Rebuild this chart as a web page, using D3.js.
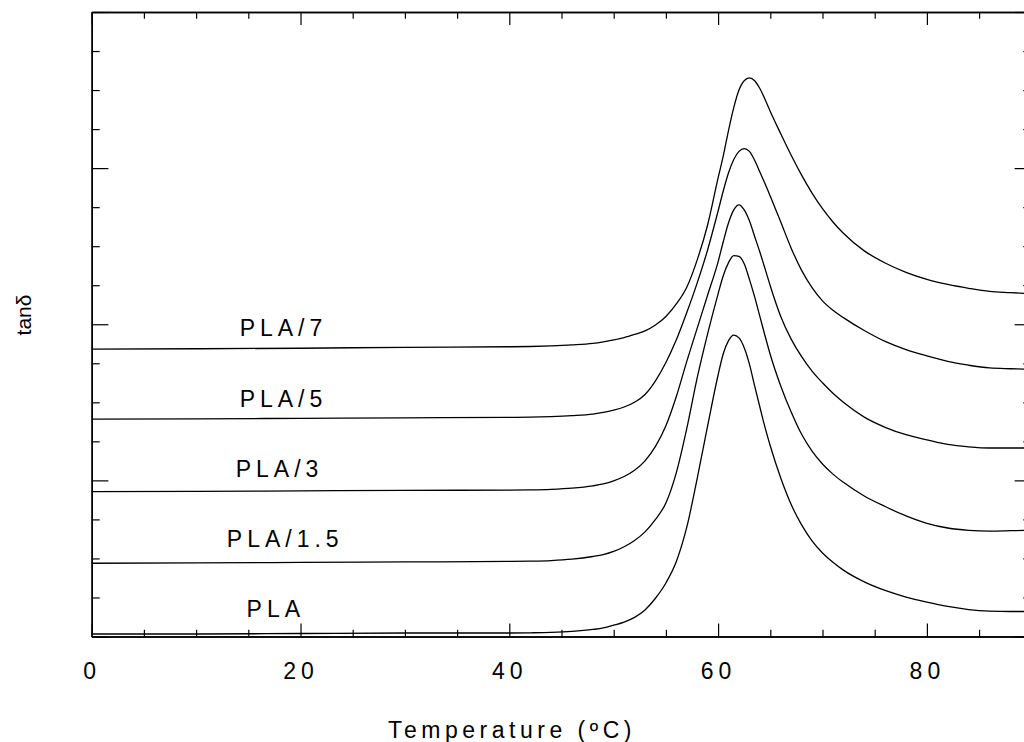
<!DOCTYPE html>
<html>
<head>
<meta charset="utf-8">
<script src="https://cdn.jsdelivr.net/npm/d3@7"></script>
<style>
  html, body { margin: 0; padding: 0; background: #fff; }
  svg { display: block; }
  text { font-family: Arial, "Liberation Sans", Helvetica, sans-serif; fill: #000; }
</style>
</head>
<body>
<svg id="chart" width="1024" height="742"></svg>
<script>
// Temperature grid (°C) shared by all tan δ curves
const temps = [0, 10, 20, 30, 40, 42, 44, 46, 48, 49,
               50, 51, 52, 53, 54, 55, 56, 57, 58, 59,
               60, 60.5, 61, 61.5, 62, 62.5, 63, 63.5, 64, 64.5,
               65, 66, 67, 68, 69, 70, 71, 72, 74, 76,
               78, 80, 82, 84, 86, 88, 89.5];

// tan δ (vertically offset curves, arbitrary units)
const tanPLA   = [0.064, 0.064, 0.077, 0.09, 0.09, 0.095, 0.105, 0.13, 0.18, 0.22,
                  0.29, 0.37, 0.49, 0.68, 0.98, 1.37, 1.92, 2.80, 4.05, 5.40,
                  6.70, 7.25, 7.58, 7.72, 7.65, 7.40, 6.98, 6.42, 5.88, 5.35,
                  4.88, 4.06, 3.38, 2.86, 2.45, 2.14, 1.90, 1.70, 1.40, 1.18,
                  1.01, 0.88, 0.77, 0.69, 0.65, 0.64, 0.64];
const tanPLA15 = [1.877, 1.885, 1.897, 1.91, 1.923, 1.93, 1.945, 1.98, 2.05, 2.10,
                  2.18, 2.30, 2.46, 2.68, 3.00, 3.42, 4.20, 5.33, 6.63, 7.76,
                  8.78, 9.25, 9.58, 9.76, 9.74, 9.55, 9.15, 8.70, 8.20, 7.70,
                  7.22, 6.42, 5.75, 5.18, 4.75, 4.42, 4.16, 3.95, 3.60, 3.33,
                  3.09, 2.90, 2.78, 2.72, 2.70, 2.71, 2.72];
const tanPLA3  = [3.713, 3.718, 3.731, 3.744, 3.749, 3.755, 3.77, 3.80, 3.86, 3.91,
                  3.99, 4.10, 4.26, 4.50, 4.87, 5.40, 6.15, 7.05, 7.90, 8.75,
                  9.60, 10.12, 10.60, 10.93, 11.06, 10.93, 10.65, 10.25, 9.85, 9.42,
                  8.98, 8.20, 7.62, 7.17, 6.80, 6.50, 6.23, 6.00, 5.62, 5.36,
                  5.17, 5.04, 4.92, 4.86, 4.83, 4.83, 4.83];
const tanPLA5  = [5.569, 5.577, 5.59, 5.603, 5.615, 5.62, 5.635, 5.66, 5.70, 5.74,
                  5.80, 5.88, 6.00, 6.20, 6.55, 7.02, 7.60, 8.30, 9.06, 9.91,
                  10.90, 11.42, 11.88, 12.22, 12.43, 12.50, 12.43, 12.20, 11.90, 11.60,
                  11.28, 10.62, 9.95, 9.38, 8.94, 8.60, 8.36, 8.17, 7.84, 7.56,
                  7.35, 7.19, 7.05, 6.95, 6.88, 6.86, 6.85];
const tanPLA7  = [7.364, 7.372, 7.385, 7.41, 7.423, 7.43, 7.445, 7.47, 7.51, 7.55,
                  7.60, 7.66, 7.74, 7.83, 7.98, 8.20, 8.52, 8.95, 9.65, 10.55,
                  11.75, 12.32, 12.97, 13.55, 14.00, 14.24, 14.31, 14.24, 14.04, 13.76,
                  13.45, 12.88, 12.33, 11.82, 11.36, 10.96, 10.62, 10.33, 9.88, 9.57,
                  9.33, 9.15, 9.02, 8.92, 8.84, 8.81, 8.79];

const seriesNames  = ["PLA", "PLA/1.5", "PLA/3", "PLA/5", "PLA/7"];
const seriesValues = [tanPLA, tanPLA15, tanPLA3, tanPLA5, tanPLA7];

const xMajorTicks = [0, 20, 40, 60, 80];
const xTickLabels = ["0", "20", "40", "60", "80"];

// ---- layout ----
const svg = d3.select("#chart");
const plot = { left: 91.7, top: 12, bottom: 636.5, right: 1031.3 };

const x = d3.scaleLinear().domain([0, 90]).range([plot.left, plot.right]);
const y = d3.scaleLinear().domain([0, 16]).range([plot.bottom, plot.top]);

const xMinor = d3.range(0, 91, 5).filter(v => v % 20 !== 0);
const yMajor = [0, 4, 8, 12, 16];
const yMinor = d3.range(0, 17, 1).filter(v => v % 4 !== 0);

function styleAxis(g) {
  g.selectAll(".domain").attr("stroke", "#000").attr("stroke-width", 1.5);
  g.selectAll(".tick line").attr("stroke", "#000").attr("stroke-width", 1.2);
}

// bottom axis with labels (ticks point inward)
svg.append("g")
  .attr("transform", `translate(0,${plot.bottom})`)
  .call(d3.axisBottom(x).tickValues(xMajorTicks)
        .tickFormat((d, i) => xTickLabels[i])
        .tickSize(-13).tickSizeOuter(0).tickPadding(26))
  .call(styleAxis)
  .call(g => g.selectAll("text")
        .attr("font-size", 23).attr("letter-spacing", 5)
        .style("font-family", "Arial, 'Liberation Sans', sans-serif").attr("fill", "#000"));
svg.append("g")
  .attr("transform", `translate(0,${plot.bottom})`)
  .call(d3.axisBottom(x).tickValues(xMinor).tickFormat("").tickSize(-6.7).tickSizeOuter(0))
  .call(styleAxis);

// top axis
svg.append("g")
  .attr("transform", `translate(0,${plot.top})`)
  .call(d3.axisTop(x).tickValues(xMajorTicks).tickFormat("").tickSize(-13).tickSizeOuter(0))
  .call(styleAxis);
svg.append("g")
  .attr("transform", `translate(0,${plot.top})`)
  .call(d3.axisTop(x).tickValues(xMinor).tickFormat("").tickSize(-6.7).tickSizeOuter(0))
  .call(styleAxis);

// left axis
svg.append("g")
  .attr("transform", `translate(${plot.left},0)`)
  .call(d3.axisLeft(y).tickValues(yMajor).tickFormat("").tickSize(-16.7).tickSizeOuter(0))
  .call(styleAxis);
svg.append("g")
  .attr("transform", `translate(${plot.left},0)`)
  .call(d3.axisLeft(y).tickValues(yMinor).tickFormat("").tickSize(-8).tickSizeOuter(0))
  .call(styleAxis);

// right axis
svg.append("g")
  .attr("transform", `translate(${plot.right},0)`)
  .call(d3.axisRight(y).tickValues(yMajor).tickFormat("").tickSize(-16.7).tickSizeOuter(0))
  .call(styleAxis);
svg.append("g")
  .attr("transform", `translate(${plot.right},0)`)
  .call(d3.axisRight(y).tickValues(yMinor).tickFormat("").tickSize(-8).tickSizeOuter(0))
  .call(styleAxis);

// ---- curves ----
const line = d3.line()
  .x((d, i) => x(temps[i]))
  .y(d => y(d))
  .curve(d3.curveMonotoneX);

svg.append("g")
  .selectAll("path")
  .data(seriesValues)
  .join("path")
  .attr("d", d => line(d))
  .attr("fill", "none")
  .attr("stroke", "#000")
  .attr("stroke-width", 1.3);

// ---- curve labels (placed in data units above each baseline) ----
const labelSpacing = 5;
const labelAnchors = [
  { t: 17.4, v: 0.51 },
  { t: 18.3, v: 2.29 },
  { t: 17.75, v: 4.09 },
  { t: 18.13, v: 5.89 },
  { t: 18.13, v: 7.70 }
];
svg.append("g")
  .selectAll("text")
  .data(seriesNames)
  .join("text")
  .attr("x", (d, i) => x(labelAnchors[i].t) + labelSpacing / 2)
  .attr("y", (d, i) => y(labelAnchors[i].v))
  .attr("text-anchor", "middle")
  .attr("font-size", 23)
  .attr("letter-spacing", labelSpacing)
  .text(d => d);

// ---- axis titles ----
svg.append("text")
  .attr("x", 512)
  .attr("y", 738)
  .attr("text-anchor", "middle")
  .attr("font-size", 23)
  .attr("letter-spacing", 4.5)
  .text("Temperature (ºC)");

svg.append("text")
  .attr("transform", "translate(31,315) rotate(-90)")
  .attr("text-anchor", "middle")
  .attr("font-size", 21)
  .text("tanδ");
</script>
</body>
</html>
